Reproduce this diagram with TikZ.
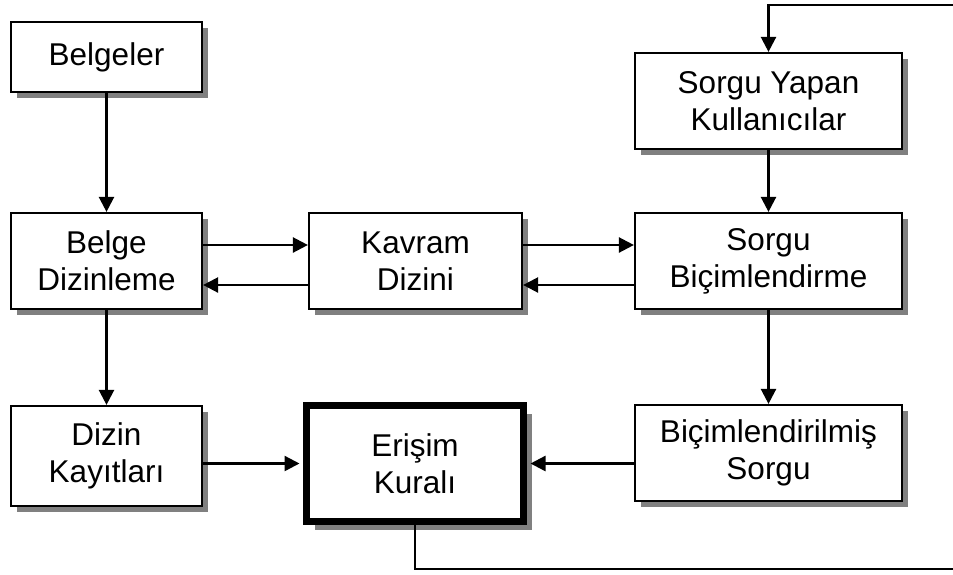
\documentclass[tikz,border=0pt]{standalone}
\usepackage{fontspec}
\setmainfont{Liberation Sans}
\usetikzlibrary{arrows.meta,shadows}
\definecolor{shadowgray}{HTML}{808080}
\begin{document}
\begin{tikzpicture}[x=1pt,y=-1pt,
  boxbase/.style={draw=black, fill=white, align=center, inner sep=0pt,
    font=\fontsize{31.5}{37}\selectfont},
  box/.style={boxbase, line width=2.2pt,
    drop shadow={shadow xshift=6pt, shadow yshift=-6pt, fill=shadowgray, opacity=1}},
  mainbox/.style={boxbase, line width=7pt,
    drop shadow={shadow xshift=8.5pt, shadow yshift=-8.5pt, fill=shadowgray, opacity=1}},
  conn/.style={line width=2.4pt},
  arr/.style={conn, -{Triangle[length=15pt,width=15pt]}}
]
\useasboundingbox (0,0) rectangle (953,574);

\node[box, minimum width=191pt, minimum height=70pt] (bel) at (106.5,57) {Belgeler};
\node[box, minimum width=191pt, minimum height=96pt] (bd) at (106.5,261) {Belge\\Dizinleme};
\node[box, minimum width=191pt, minimum height=100pt] (dk) at (106.5,456) {Dizin\\Kayıtları};
\node[box, minimum width=213pt, minimum height=96pt] (kv) at (415.5,261) {Kavram\\Dizini};
\node[mainbox, minimum width=217pt, minimum height=116pt] (er) at (415,463.5) {Erişim\\Kuralı};
\node[box, minimum width=267pt, minimum height=96pt] (sy) at (768.5,101) {Sorgu Yapan\\Kullanıcılar};
\node[box, minimum width=267pt, minimum height=96pt] (sb) at (768.5,261) {Sorgu\\Biçimlendirme};
\node[box, minimum width=267pt, minimum height=96pt] (bs) at (768.5,453) {Biçimlendirilmiş\\Sorgu};

\coordinate (ya) at (0,245);
\coordinate (yb) at (0,285);
\coordinate (fb1) at (953,569);
\coordinate (fb2) at (953,5);

\draw[arr] (bel) -- (bd);
\draw[arr] (bd) -- (dk);
\draw[arr] (bd.east |- ya) -- (kv.west |- ya);
\draw[arr] (kv.west |- yb) -- (bd.east |- yb);
\draw[arr] (kv.east |- ya) -- (sb.west |- ya);
\draw[arr] (sb.west |- yb) -- (kv.east |- yb);
\draw[arr] (sy) -- (sb);
\draw[arr] (sb) -- (bs);
\draw[arr, shorten >=3.5pt] (dk.east |- er.west) -- (er.west);
\draw[arr, shorten >=3.5pt] (bs.west |- er.east) -- (er.east);

\draw[conn] (er.south) -- (er.south |- fb1) -- (fb1);
\draw[arr] (fb2) -- (fb2 -| sy.north) -- (sy.north);
\end{tikzpicture}
\end{document}
